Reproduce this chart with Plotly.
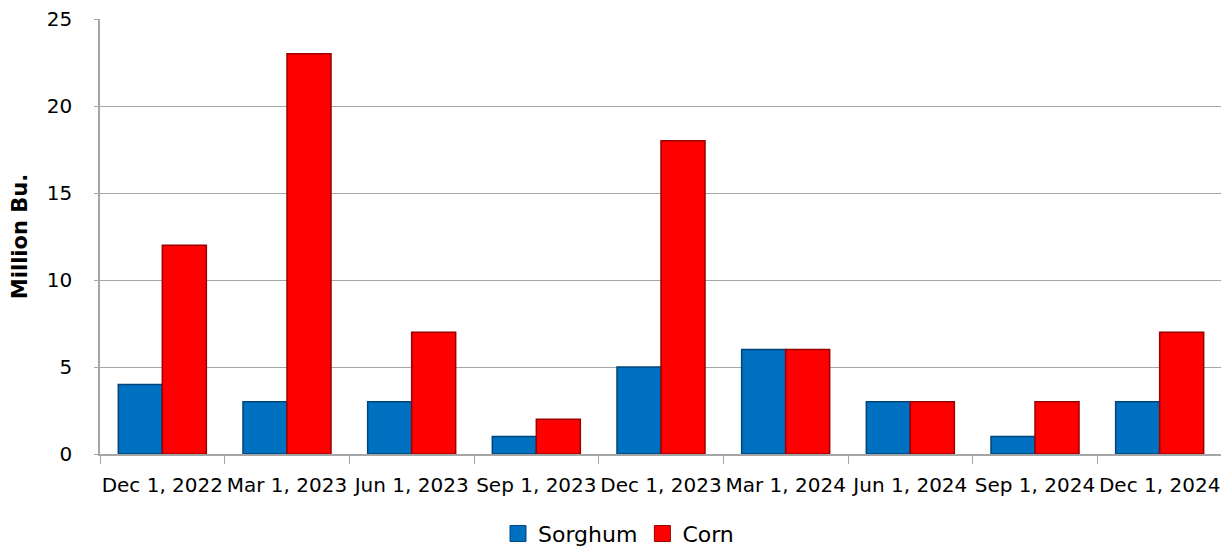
import plotly.graph_objects as go

categories = ["Dec 1, 2022", "Mar 1, 2023", "Jun 1, 2023", "Sep 1, 2023", "Dec 1, 2023",
              "Mar 1, 2024", "Jun 1, 2024", "Sep 1, 2024", "Dec 1, 2024"]
sorghum = [4, 3, 3, 1, 5, 6, 3, 1, 3]
corn = [12, 23, 7, 2, 18, 6, 3, 3, 7]

FONT = "DejaVu Sans, Liberation Sans, Arial, sans-serif"
BLUE, BLUE_EDGE = "#0070C0", "#00457A"
RED, RED_EDGE = "#FF0000", "#9A0000"

fig = go.Figure()
fig.add_trace(go.Bar(name="Sorghum", x=categories, y=sorghum, showlegend=False,
                     legendgroup="s",
                     marker=dict(color=BLUE, line=dict(color=BLUE_EDGE, width=1.5))))
fig.add_trace(go.Bar(name="Corn", x=categories, y=corn, showlegend=False,
                     legendgroup="c",
                     marker=dict(color=RED, line=dict(color=RED_EDGE, width=1.5))))
# legend entries with larger square keys
fig.add_trace(go.Scatter(name="Sorghum", x=[None], y=[None], mode="markers", legendgroup="s",
                         marker=dict(symbol="square", size=17, color=BLUE,
                                     line=dict(color=BLUE_EDGE, width=1))))
fig.add_trace(go.Scatter(name="Corn", x=[None], y=[None], mode="markers", legendgroup="c",
                         marker=dict(symbol="square", size=17, color=RED,
                                     line=dict(color=RED_EDGE, width=1))))

fig.update_layout(
    width=1221, height=542,
    margin=dict(l=92, r=7, t=11, b=96),
    paper_bgcolor="white", plot_bgcolor="white",
    barmode="group", bargap=0.294, bargroupgap=0,
    font=dict(family=FONT, color="black"),
    legend=dict(orientation="h", xref="container", yref="container",
                x=0.5, xanchor="center", y=0.03, yanchor="middle",
                font=dict(size=22, family=FONT), traceorder="normal",
                itemwidth=30),
    xaxis=dict(showgrid=False, showline=True, linecolor="#A6A6A6", linewidth=1.5,
               ticks="outside", tickson="boundaries", ticklen=8, tickcolor="#A6A6A6",
               tickfont=dict(size=20, family=FONT), tickangle=0, automargin=False,
               ticklabelstandoff=12, ticklabeloverflow="allow", fixedrange=True),
    yaxis=dict(range=[0, 25], dtick=5, showgrid=True, gridcolor="#A6A6A6", gridwidth=1,
               showline=True, linecolor="#A6A6A6", linewidth=1.5,
               ticks="outside", ticklen=4, tickcolor="#A6A6A6",
               tickfont=dict(size=20, family=FONT), automargin=False,
               ticklabelstandoff=18, ticklabeloverflow="allow", fixedrange=True,
               title=dict(text="<b>Million Bu.</b>", font=dict(size=21, family=FONT), standoff=14)),
)

fig.write_html("out.html")
